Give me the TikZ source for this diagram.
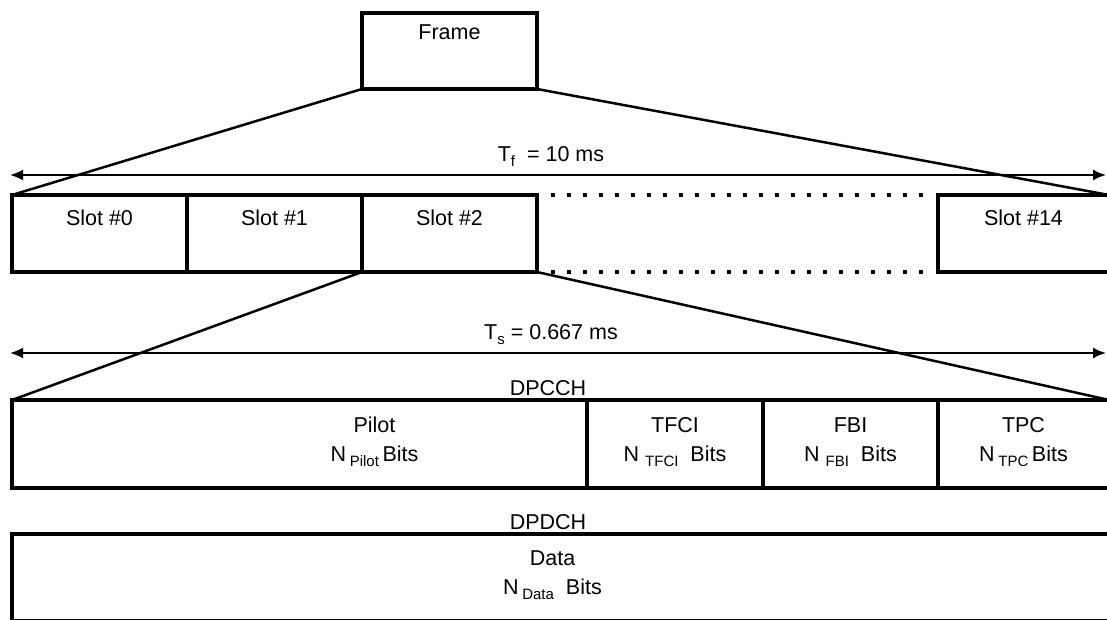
\documentclass[tikz,border=0pt]{standalone}
\usepackage{fontspec}
\setmainfont{Liberation Sans}
\usetikzlibrary{arrows.meta, positioning}

\newcommand{\lowsub}[1]{\raisebox{-5pt}{\fontsize{15}{15}\selectfont #1}}

\begin{document}
\begin{tikzpicture}[
    x=1pt, y=-1pt,
    font=\fontsize{21.5}{29}\selectfont,
    box/.style={rectangle, draw, line width=4pt, inner sep=0pt, outer sep=0pt},
    txt/.style={inner sep=0pt, align=center},
    zoomline/.style={draw, line width=2.5pt},
    span/.style={draw, {Latex[length=13pt, width=11pt]}-{Latex[length=13pt, width=11pt]}, line width=2pt},
    gap/.style={draw, line width=4pt, dash pattern=on 4pt off 12pt, shorten <=14pt, shorten >=8pt}
]
    \useasboundingbox (0,0) rectangle (1107,620);
    \clip (0,0) rectangle (1107,620);

    % frame
    \node [box, minimum width=175pt, minimum height=76pt, anchor=north west] (frame) at (362,13) {};
    \node [txt, anchor=north, yshift=-12pt] (frametxt) at (frame.north) {Frame};

    % slots
    \node [box, minimum width=175pt, minimum height=77pt, anchor=north west] (slot0) at (12,195) {};
    \node [box, minimum width=175pt, minimum height=77pt, right=0pt of slot0] (slot1) {};
    \node [box, minimum width=175pt, minimum height=77pt, right=0pt of slot1] (slot2) {};
    \node [box, minimum width=171pt, minimum height=77pt, anchor=north west] (slot14) at (938,195) {};
    \foreach \s/\t in {slot0/0, slot1/1, slot2/2, slot14/14}
        \node [txt, anchor=north, yshift=-15pt] (\s txt) at (\s.north) {Slot \#\t};

    \draw [gap] (slot2.north east) -- (slot14.north west);
    \draw [gap] (slot2.south east) -- (slot14.south west);

    \coordinate (tfL) at (10,175);
    \coordinate (tfR) at (1106,175);
    \draw [span] (tfL) -- (tfR);
    \node [txt] (tf) at (551,156) {T\lowsub{f}\ \ = 10 ms};

    \draw [zoomline] (frame.south west) -- (slot0.north west);
    \draw [zoomline] (frame.south east) -- (slot14.north east);

    % DPCCH fields
    \node [txt] (dpcch) at (548,388) {DPCCH};
    \node [box, minimum width=575pt, minimum height=88pt, anchor=north west] (pilot) at (12,400) {};
    \node [box, minimum width=176pt, minimum height=88pt, right=0pt of pilot] (tfci) {};
    \node [box, minimum width=175pt, minimum height=88pt, right=0pt of tfci] (fbi) {};
    \node [box, minimum width=171pt, minimum height=88pt, right=0pt of fbi] (tpc) {};

    \node [txt, xshift=75pt, yshift=2pt] (pilottxt) at (pilot.center) {Pilot\\N\,\lowsub{Pilot}\,Bits};
    \node [txt, yshift=2pt] (tfcitxt) at (tfci.center) {TFCI\\N\ \lowsub{TFCI}\ \ Bits};
    \node [txt, yshift=2pt] (fbitxt) at (fbi.center) {FBI\\N\ \lowsub{FBI}\ \ Bits};
    \node [txt, yshift=2pt] (tpctxt) at (tpc.center) {TPC\\N\,\lowsub{TPC}\,Bits};

    \coordinate (tsL) at (10,353);
    \coordinate (tsR) at (1106,353);
    \draw [span] (tsL) -- (tsR);
    \node [txt] (ts) at (551,335) {T\lowsub{s}\ = 0.667 ms};

    \draw [zoomline] (slot2.south west) -- (pilot.north west);
    \draw [zoomline] (slot2.south east) -- (tpc.north east);

    % DPDCH
    \node [txt] (dpdch) at (548,522) {DPDCH};
    \node [box, minimum width=1097pt, minimum height=87pt, anchor=north west] (data) at (12,534) {};
    \node [txt, xshift=-8pt, yshift=2pt] (datatxt) at (data.center) {Data\\N\,\lowsub{Data}\ \ Bits};

\end{tikzpicture}
\end{document}
